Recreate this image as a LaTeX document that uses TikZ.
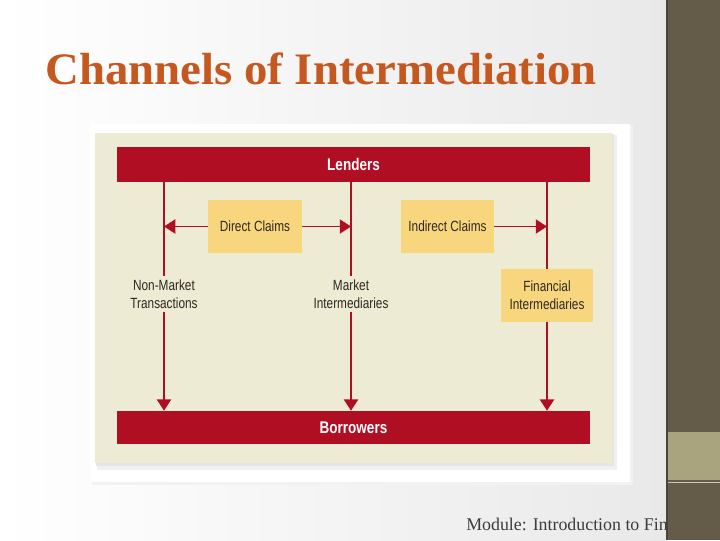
\documentclass[tikz,border=0pt]{standalone}
\usepackage{fontspec}
\setmainfont{Liberation Serif}
\newfontfamily\titlefont[FakeStretch=1.04]{Liberation Serif}
\newfontfamily\diagfont[FakeStretch=0.8]{Liberation Sans}
\usetikzlibrary{arrows.meta}
\definecolor{barred}{RGB}{176,14,35}
\definecolor{claimyellow}{RGB}{248,214,125}
\definecolor{panelbeige}{RGB}{237,235,211}
\definecolor{diagtext}{RGB}{45,40,35}
\definecolor{slidegray}{RGB}{233,233,233}
\definecolor{titleorange}{RGB}{196,88,30}
\definecolor{footgray}{RGB}{60,60,60}
\definecolor{sidebrown}{RGB}{100,92,72}
\definecolor{sideband}{RGB}{169,164,126}

\begin{document}
\begin{tikzpicture}[x=0.025cm,y=-0.025cm,
  bar/.style={fill=barred,text=white,inner sep=0pt,minimum width=11.825cm,
    font=\diagfont\bfseries\fontsize{12}{14}\selectfont},
  claim/.style={fill=claimyellow,text=diagtext,inner sep=0pt,align=center,
    minimum height=1.325cm,font=\diagfont\fontsize{10.5}{12.8}\selectfont},
  channel/.style={text=diagtext,inner sep=2pt,align=center,
    font=\diagfont\fontsize{10.5}{12.8}\selectfont},
  flow/.style={draw=barred,line width=1.3pt},
  flowarrow/.style={-{Triangle[length=8pt,width=10pt]}}]
\useasboundingbox (0,0) rectangle (720,540);
\shade[left color=white,right color=slidegray] (0,0) rectangle (666,540);
\node[anchor=base west,inner sep=0pt,text=titleorange,
  font=\titlefont\bfseries\fontsize{32}{36}\selectfont] (title) at (45,84) {Channels of Intermediation};

\fill[black!5] (92,126) rectangle (633,485);
\fill[white] (90,124) rectangle (630,482);
\fill[black!6] (97,135) rectangle (617,470);
\fill[black!10] (96,134) rectangle (614,466);
\fill[panelbeige] (95,133) rectangle (612,463);

\node[bar,minimum height=0.875cm] (lenders) at (353.5,164.5) {Lenders};
\node[bar,minimum height=0.825cm] (borrowers) at (353.5,427.5) {Borrowers};
\node[claim,minimum width=2.35cm] (direct) at (255,226.5) {Direct Claims};
\node[claim,minimum width=2.325cm] (indirect) at (447.5,226.5) {Indirect Claims};
\node[channel] (nonmarket) at (164,294) {Non-Market\\Transactions};
\node[channel] (market) at (351,294) {Market\\Intermediaries};
\node[claim,minimum width=2.3cm] (financial) at (547,295.5) {Financial\\Intermediaries};

\draw[flow] (lenders.south -| nonmarket) -- (nonmarket.north);
\draw[flow,flowarrow] (nonmarket.south) -- (borrowers.north -| nonmarket);
\draw[flow] (lenders.south -| market) -- (market.north);
\draw[flow,flowarrow] (market.south) -- (borrowers.north -| market);
\draw[flow] (lenders.south -| financial) -- (financial.north);
\draw[flow,flowarrow] (financial.south) -- (borrowers.north -| financial);
\draw[flow,flowarrow] (direct.west) -- (direct.west -| nonmarket);
\draw[flow,flowarrow] (direct.east) -- (direct.east -| market);
\draw[flow,flowarrow] (indirect.east) -- (indirect.east -| financial);

\node[anchor=base west,inner sep=0pt,text=footgray,
  font=\fontsize{12.7}{14}\selectfont] (footer) at (466,530) {Module: Introduction to Fin};
\fill[sidebrown] (666,0) rectangle (720,540);
\fill[sideband] (668,432) rectangle (720,480);
\draw[sideband!60!white,line width=0.6pt] (668,482) -- (720,482);
\draw[sidebrown!75!black,line width=1.2pt] (667,0) -- (667,540);
\end{tikzpicture}
\end{document}
